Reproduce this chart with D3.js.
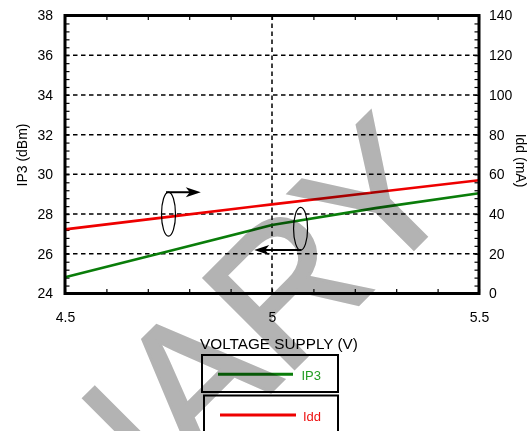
<!DOCTYPE html>
<html>
<head>
  <meta charset="UTF-8">
  <title>IP3 and Idd vs Voltage Supply</title>
  <script src="https://d3js.org/d3.v7.min.js"></script>
  <style>
    body { margin: 0; background: #fff; }
    text { font-family: "Liberation Sans", Arial, Helvetica, sans-serif; }
  </style>
</head>
<body>
  <svg id="chart" width="529" height="431"></svg>
  <script>
    /* Data */
    const voltage = [4.5, 4.75, 5.0, 5.25, 5.5];
    const ip3 = [24.82, 26.13, 27.45, 28.3, 29.05];     // dBm, left axis
    const idd = [32.3, 38.6, 44.9, 51.0, 57.0];         // mA, right axis

    const xTicks = [4.5, 5, 5.5];
    const ip3Ticks = [24, 26, 28, 30, 32, 34, 36, 38];
    const iddTicks = [0, 20, 40, 60, 80, 100, 120, 140];

    // annotation markers (data units)
    const ovals = [
      { v: 4.75, y: 28.0, dy: 1.11, arrowFrom: 4.744, arrowTo: 4.828, arrowY: 29.1 },
      { v: 5.069, y: 27.26, dy: 1.08, arrowFrom: 5.071, arrowTo: 4.957, arrowY: 26.19 }
    ];

    /* Constants */
    const svg = d3.select("#chart");
    const plotLeft = 65, plotRight = 479, plotTop = 15.5, plotBottom = 293.5;
    const green = "#0a7d0a";
    const red = "#ee0000";

    const x = d3.scaleLinear().domain([4.5, 5.5]).range([plotLeft, plotRight]);
    const yL = d3.scaleLinear().domain([24, 38]).range([plotBottom, plotTop]);
    const yR = d3.scaleLinear().domain([0, 140]).range([plotBottom, plotTop]);

    // gridlines
    const grid = svg.append("g").attr("stroke", "#000").attr("stroke-width", 1.5)
      .attr("stroke-dasharray", "4.5,3.5");
    ip3Ticks.slice(1, -1).forEach(t => {
      grid.append("line").attr("x1", plotLeft).attr("x2", plotRight)
        .attr("y1", yL(t)).attr("y2", yL(t));
    });
    grid.append("line").attr("x1", x(5)).attr("x2", x(5))
      .attr("y1", plotTop).attr("y2", plotBottom);

    // inward minor ticks
    const tk = 4.5;
    svg.append("g").attr("transform", `translate(0,${plotBottom})`)
      .call(d3.axisTop(x).tickValues(d3.range(45, 56).map(d => d / 10)).tickSize(tk).tickFormat(""));
    svg.append("g").attr("transform", `translate(0,${plotTop})`)
      .call(d3.axisBottom(x).tickValues(d3.range(45, 56).map(d => d / 10)).tickSize(tk).tickFormat(""));
    svg.append("g").attr("transform", `translate(${plotLeft},0)`)
      .call(d3.axisRight(yL).tickValues(d3.range(0, 36).map(d => 24 + d * 0.4)).tickSize(tk).tickFormat(""));
    svg.append("g").attr("transform", `translate(${plotRight},0)`)
      .call(d3.axisLeft(yR).tickValues(d3.range(0, 36).map(d => d * 4)).tickSize(tk).tickFormat(""));
    svg.selectAll(".domain").remove();
    svg.selectAll(".tick line").attr("stroke-width", 1.2);

    // tick labels
    const lab = (sel) => sel.call(s => s.select(".domain").remove())
      .call(s => s.selectAll("text").attr("font-size", 14).attr("fill", "#000")
        .attr("font-family", "Liberation Sans, Arial, sans-serif"));
    svg.append("g").attr("transform", `translate(0,${plotBottom})`)
      .call(d3.axisBottom(x).tickValues(xTicks).tickSize(0).tickPadding(18.5).tickFormat(d3.format("")))
      .call(lab);
    svg.append("g").attr("transform", `translate(${plotLeft},0)`)
      .call(d3.axisLeft(yL).tickValues(ip3Ticks).tickSize(0).tickPadding(12))
      .call(lab);
    svg.append("g").attr("transform", `translate(${plotRight},0)`)
      .call(d3.axisRight(yR).tickValues(iddTicks).tickSize(0).tickPadding(10))
      .call(lab);

    // axis titles
    svg.append("text").attr("x", 279).attr("y", 349).attr("text-anchor", "middle")
      .attr("font-size", 15.3).text("VOLTAGE SUPPLY (V)");
    svg.append("text").attr("transform", "translate(26.5,155) rotate(-90)").attr("text-anchor", "middle")
      .attr("font-size", 14).text("IP3 (dBm)");
    svg.append("text").attr("transform", "translate(516,160.5) rotate(90)").attr("text-anchor", "middle")
      .attr("font-size", 14).text("Idd (mA)");

    // series lines
    const ip3Line = d3.line().x((d, i) => x(voltage[i])).y(d => yL(d));
    const iddLine = d3.line().x((d, i) => x(voltage[i])).y(d => yR(d));
    svg.append("path").attr("d", iddLine(idd)).attr("fill", "none")
      .attr("stroke", red).attr("stroke-width", 2.6);
    svg.append("path").attr("d", ip3Line(ip3)).attr("fill", "none")
      .attr("stroke", green).attr("stroke-width", 2.6);

    // ovals with arrows
    ovals.forEach(o => {
      svg.append("ellipse").attr("cx", x(o.v)).attr("cy", yL(o.y))
        .attr("rx", 7).attr("ry", yL(o.y - o.dy) - yL(o.y))
        .attr("fill", "none").attr("stroke", "#000").attr("stroke-width", 1.2);
      const x1 = x(o.arrowFrom), x2 = x(o.arrowTo), ay = yL(o.arrowY);
      const dir = x2 > x1 ? 1 : -1;
      svg.append("line").attr("x1", x1).attr("x2", x2 - dir * 10).attr("y1", ay).attr("y2", ay)
        .attr("stroke", "#000").attr("stroke-width", 2);
      svg.append("path")
        .attr("d", `M${x2},${ay} L${x2 - dir * 15},${ay - 5} L${x2 - dir * 11},${ay} L${x2 - dir * 15},${ay + 5} Z`)
        .attr("fill", "#000");
    });

    // frame
    svg.append("rect").attr("x", plotLeft).attr("y", plotTop)
      .attr("width", plotRight - plotLeft).attr("height", plotBottom - plotTop)
      .attr("fill", "none").attr("stroke", "#000").attr("stroke-width", 3);

    // legend
    const legend = [
      { name: "IP3", color: green, text: "#229c22", box: [202, 355, 136, 37], ly: 374.3, ty: 380, x1: 218, x2: 293, tx: 301.5 },
      { name: "Idd", color: red, text: "#ee1111", box: [204, 395.5, 134, 40], ly: 415, ty: 420.5, x1: 220, x2: 296, tx: 303 }
    ];
    legend.forEach(l => {
      svg.append("rect").attr("x", l.box[0]).attr("y", l.box[1]).attr("width", l.box[2]).attr("height", l.box[3])
        .attr("fill", "#fff").attr("stroke", "#000").attr("stroke-width", 2);
      svg.append("line").attr("x1", l.x1).attr("x2", l.x2).attr("y1", l.ly).attr("y2", l.ly)
        .attr("stroke", l.color).attr("stroke-width", 3);
      svg.append("text").attr("x", l.tx).attr("y", l.ty).attr("font-size", 13)
        .attr("fill", l.text).text(l.name);
    });

    // watermark
    svg.append("text").attr("transform", "translate(464,199) rotate(-45)")
      .attr("text-anchor", "end").attr("font-size", 186).attr("fill", "#b3b3b3")
      .attr("stroke", "#b3b3b3").attr("stroke-width", 3)
      .style("mix-blend-mode", "multiply").text("PRELIMINARY");
  </script>
</body>
</html>
